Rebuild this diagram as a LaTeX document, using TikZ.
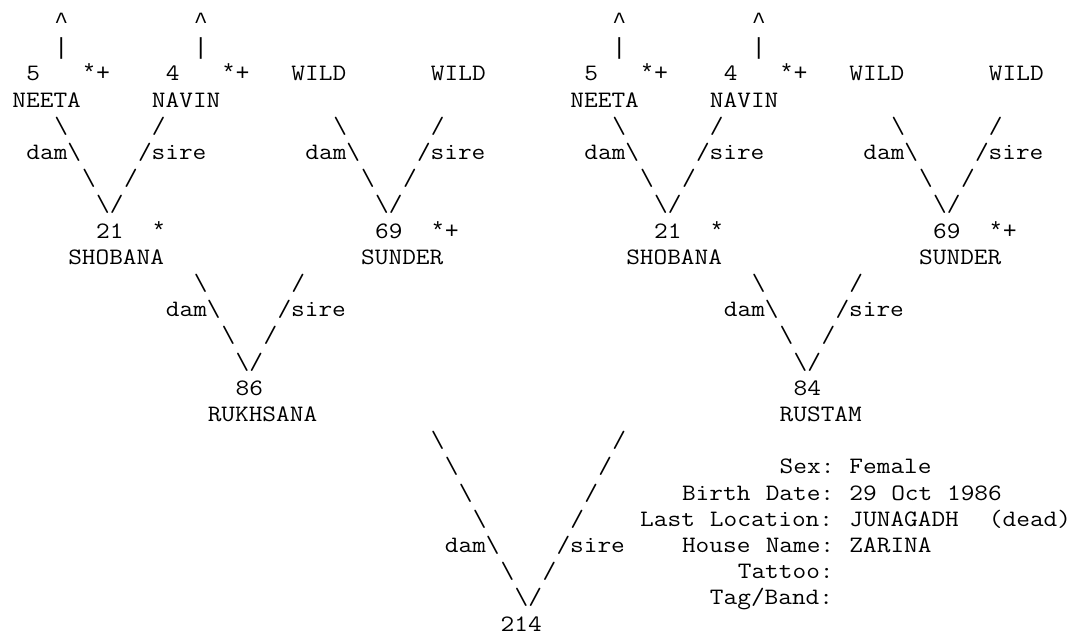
\documentclass[tikz,border=0pt]{standalone}
\usepackage{fontspec}
\usepackage{graphicx}
\newfontfamily\lmono{Liberation Mono}
\newcommand\cw{13.95}
\newcommand\xo{-1.5}
\newcommand\sx{1.1307}
\tikzset{
  tk/.style={anchor=base west,inner sep=0pt,outer sep=0pt,font=\ttfamily\fontsize{23.5}{26}\selectfont,text=black},
  tkr/.style={anchor=base west,inner sep=0pt,outer sep=0pt,font=\lmono\fontsize{23.25}{26}\selectfont,text=black}}
\newcommand\tk[3]{\node[tk] (n#1x#2) at ({#2*\cw+\xo},{-28.5-26.2*#1}) {\scalebox{\sx}[1]{#3}};}
\newcommand\tkr[3]{\node[tkr] (n#1x#2) at ({#2*\cw+\xo},{-28.5-26.2*#1}) {#3};}
\newcommand\bs{\textbackslash}
\begin{document}
\begin{tikzpicture}[x=1pt,y=1pt]
\fill[white] (0,0) rectangle (1074,-637);
\useasboundingbox (0,0) rectangle (1074,-637);
% row 0,1
\foreach \c in {4,14,44,54}{\tkr{0}{\c}{\textasciicircum}\tkr{1}{\c}{|}}
% row 2
\tk{2}{2}{5}\tkr{2}{6}{*+}\tk{2}{12}{4}\tkr{2}{16}{*+}\tk{2}{21}{WILD}\tk{2}{31}{WILD}
\tk{2}{42}{5}\tkr{2}{46}{*+}\tk{2}{52}{4}\tkr{2}{56}{*+}\tk{2}{61}{WILD}\tk{2}{71}{WILD}
% row 3
\tk{3}{1}{NEETA}\tk{3}{11}{NAVIN}\tk{3}{41}{NEETA}\tk{3}{51}{NAVIN}
% rows 4-7 (top generation links)
\foreach \o in {0,20,40,60}{
  \pgfmathtruncatemacro\a{4+\o}\pgfmathtruncatemacro\b{11+\o}
  \tk{4}{\a}{\bs}\tk{4}{\b}{/}
  \pgfmathtruncatemacro\a{2+\o}\pgfmathtruncatemacro\b{10+\o}
  \tk{5}{\a}{dam\bs}\tk{5}{\b}{/sire}
  \pgfmathtruncatemacro\a{6+\o}\pgfmathtruncatemacro\b{9+\o}
  \tk{6}{\a}{\bs}\tk{6}{\b}{/}
  \pgfmathtruncatemacro\a{7+\o}
  \tk{7}{\a}{\bs/}
}
% row 8,9
\tk{8}{7}{21}\tkr{8}{11}{*}\tk{8}{27}{69}\tkr{8}{31}{*+}
\tk{8}{47}{21}\tkr{8}{51}{*}\tk{8}{67}{69}\tkr{8}{71}{*+}
\tk{9}{5}{SHOBANA}\tk{9}{26}{SUNDER}\tk{9}{45}{SHOBANA}\tk{9}{66}{SUNDER}
% rows 10-13
\foreach \o in {0,40}{
  \pgfmathtruncatemacro\a{14+\o}\pgfmathtruncatemacro\b{21+\o}
  \tk{10}{\a}{\bs}\tk{10}{\b}{/}
  \pgfmathtruncatemacro\a{12+\o}\pgfmathtruncatemacro\b{20+\o}
  \tk{11}{\a}{dam\bs}\tk{11}{\b}{/sire}
  \pgfmathtruncatemacro\a{16+\o}\pgfmathtruncatemacro\b{19+\o}
  \tk{12}{\a}{\bs}\tk{12}{\b}{/}
  \pgfmathtruncatemacro\a{17+\o}
  \tk{13}{\a}{\bs/}
}
\tk{14}{17}{86}\tk{14}{57}{84}
\tk{15}{15}{RUKHSANA}\tk{15}{56}{RUSTAM}
% rows 16-23
\tk{16}{31}{\bs}\tk{16}{44}{/}
\tk{17}{32}{\bs}\tk{17}{43}{/}\tk{17}{56}{Sex:}\tk{17}{61}{Female}
\tk{18}{33}{\bs}\tk{18}{42}{/}\tk{18}{49}{Birth}\tk{18}{55}{Date:}\tk{18}{61}{29}\tk{18}{64}{Oct}\tk{18}{68}{1986}
\tk{19}{34}{\bs}\tk{19}{41}{/}\tk{19}{46}{Last}\tk{19}{51}{Location:}\tk{19}{61}{JUNAGADH}\tk{19}{71}{(dead)}
\tk{20}{32}{dam\bs}\tk{20}{40}{/sire}\tk{20}{49}{House}\tk{20}{55}{Name:}\tk{20}{61}{ZARINA}
\tk{21}{36}{\bs}\tk{21}{39}{/}\tk{21}{53}{Tattoo:}
\tk{22}{37}{\bs/}\tk{22}{51}{Tag/Band:}
\tk{23}{36}{214}
\end{tikzpicture}
\end{document}
